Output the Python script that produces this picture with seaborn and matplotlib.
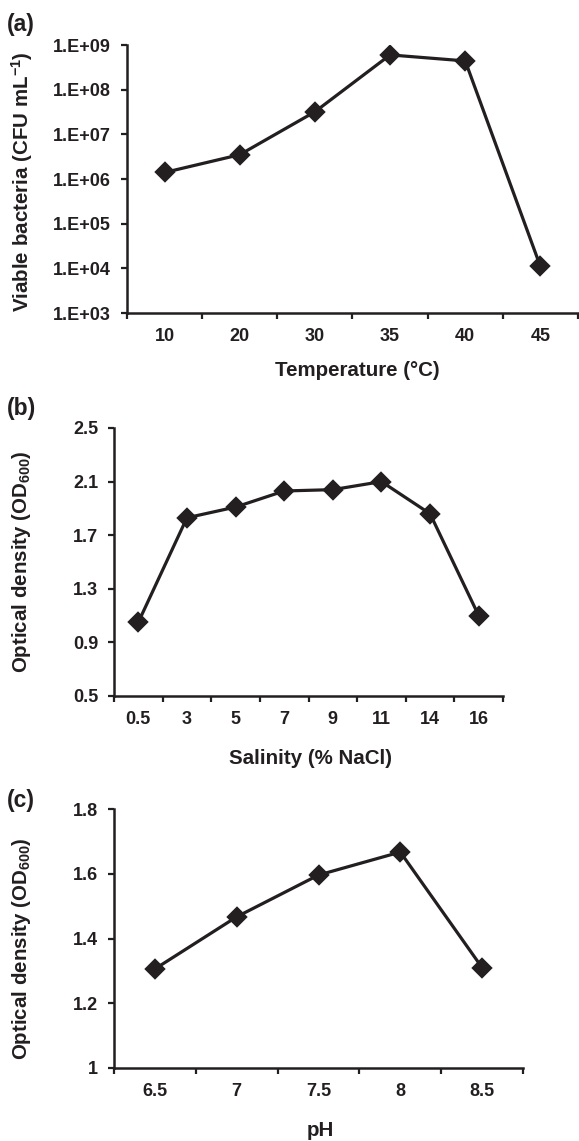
import matplotlib
matplotlib.use("Agg")
import matplotlib.pyplot as plt
import seaborn as sns
import numpy as np
from matplotlib.ticker import FixedLocator

sns.set_theme(style="ticks")
plt.rcParams['font.family'] = ['Liberation Sans', 'DejaVu Sans']
plt.rcParams['font.weight'] = 'bold'
plt.rcParams['mathtext.fontset'] = 'custom'
plt.rcParams['mathtext.rm'] = 'Liberation Sans:bold'
plt.rcParams['mathtext.bf'] = 'Liberation Sans:bold'
plt.rcParams['mathtext.default'] = 'bf'

# Data
temp_labels = ["10", "20", "30", "35", "40", "45"]
temp_cfu = [1.4e6, 3.5e6, 3.2e7, 6.0e8, 4.4e8, 1.1e4]
log_ticks = [1e3, 1e4, 1e5, 1e6, 1e7, 1e8, 1e9]
log_tick_labels = ["1.E+03", "1.E+04", "1.E+05", "1.E+06", "1.E+07", "1.E+08", "1.E+09"]

sal_labels = ["0.5", "3", "5", "7", "9", "11", "14", "16"]
sal_od = [1.05, 1.83, 1.91, 2.03, 2.04, 2.10, 1.86, 1.10]
sal_ticks = [0.5, 0.9, 1.3, 1.7, 2.1, 2.5]

ph_labels = ["6.5", "7", "7.5", "8", "8.5"]
ph_od = [1.306, 1.467, 1.596, 1.667, 1.31]
ph_ticks = [1.0, 1.2, 1.4, 1.6, 1.8]
ph_tick_labels = ["1", "1.2", "1.4", "1.6", "1.8"]

INK = "#231f20"
W, H = 579, 1141
fig = plt.figure(figsize=(W / 100, H / 100), dpi=100)

def add_ax(l, r, t, b):
    return fig.add_axes([l / W, 1 - b / H, (r - l) / W, (b - t) / H])

axA = add_ax(127, 578, 45, 313)
axB = add_ax(114, 503, 428, 696)
axC = add_ax(114, 523, 809, 1068)

tick_fs = 13
lab_fs = 14.8

def style(ax, n):
    for s in ["top", "right"]:
        ax.spines[s].set_visible(False)
    for s in ["left", "bottom"]:
        ax.spines[s].set_linewidth(1.8)
        ax.spines[s].set_color(INK)
    ax.set_xlim(-0.5, n - 0.5)
    ax.xaxis.set_minor_locator(FixedLocator(np.arange(-0.5, n, 1.0)))
    ax.tick_params(axis="x", which="major", length=0, pad=10.5, labelsize=tick_fs, labelcolor=INK)
    ax.tick_params(axis="x", which="minor", length=4.5, width=1.6, direction="out", color=INK)
    ax.tick_params(axis="y", which="major", length=4.5, width=1.6, direction="out",
                   labelsize=tick_fs, pad=7, color=INK, labelcolor=INK)
    ax.tick_params(axis="y", which="minor", length=0)
    for lab in ax.get_xticklabels() + ax.get_yticklabels():
        lab.set_fontweight("bold")
    ax.grid(False)

def draw(ax, labels, vals):
    sns.pointplot(x=labels, y=vals, ax=ax, color=INK, markers="D",
                  markersize=9, linewidth=2.3, errorbar=None)

def labels(ax, xl, yl, xl_pos, yl_pos):
    ax.set_xlabel(xl, fontsize=lab_fs, fontweight="bold", color=INK)
    ax.set_ylabel(yl, fontsize=lab_fs, fontweight="bold", color=INK)
    ax.xaxis.set_label_coords(*xl_pos)
    ax.yaxis.label.set_va("center")
    ax.yaxis.set_label_coords(*yl_pos)

# (a)
axA.set_yscale("log")
draw(axA, temp_labels, temp_cfu)
axA.set_ylim(1e3, 1e9)
axA.yaxis.set_major_locator(FixedLocator(log_ticks))
axA.set_yticklabels(log_tick_labels)
style(axA, len(temp_labels))
labels(axA, "Temperature (°C)", "Viable bacteria (CFU mL$^{-1}$)", (0.51, -0.18), (-0.233, 0.49))

# (b)
draw(axB, sal_labels, sal_od)
axB.set_ylim(0.5, 2.5)
axB.set_yticks(sal_ticks)
axB.set_yticklabels([f"{v:.1f}" for v in sal_ticks])
style(axB, len(sal_labels))
labels(axB, "Salinity (% NaCl)", "Optical density (OD$_{600}$)", (0.504, -0.197), (-0.237, 0.5))

# (c)
draw(axC, ph_labels, ph_od)
axC.set_ylim(1.0, 1.8)
axC.set_yticks(ph_ticks)
axC.set_yticklabels(ph_tick_labels)
style(axC, len(ph_labels))
labels(axC, "pH", "Optical density (OD$_{600}$)", (0.504, -0.205), (-0.225, 0.46))

for txt, y in [("(a)", 24), ("(b)", 409), ("(c)", 801)]:
    fig.text(7 / W, 1 - y / H, txt, fontsize=16.5, fontweight="bold", va="center", ha="left", color=INK)

fig.savefig("out.png", dpi=100, facecolor="white")
